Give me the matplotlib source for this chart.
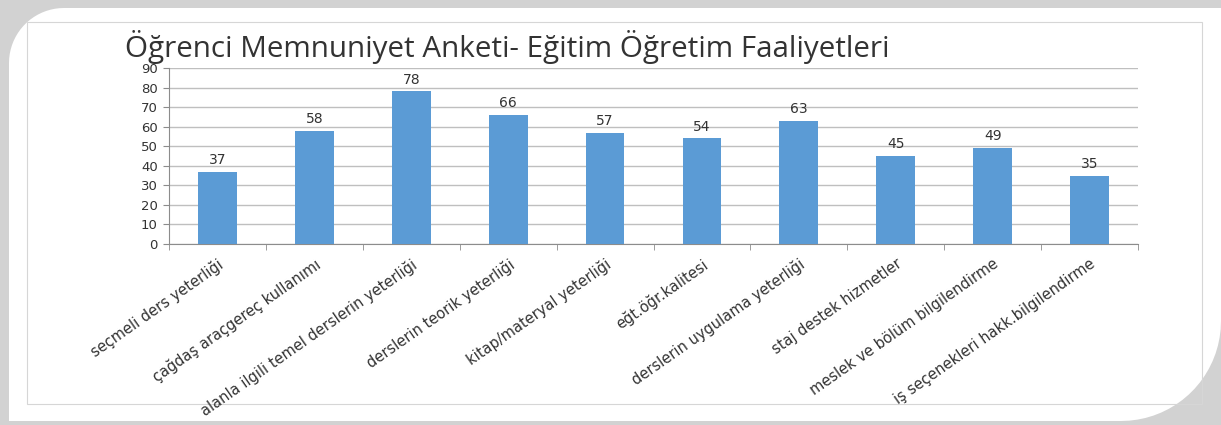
import matplotlib
matplotlib.use("Agg")
import matplotlib.pyplot as plt
from matplotlib.path import Path
from matplotlib.patches import PathPatch, Rectangle
import numpy as np

categories = [
    "seçmeli ders yeterliği",
    "çağdaş araçgereç kullanımı",
    "alanla ilgili temel derslerin yeterliği",
    "derslerin teorik yeterliği",
    "kitap/materyal yeterliği",
    "eğt.öğr.kalitesi",
    "derslerin uygulama yeterliği",
    "staj destek hizmetler",
    "meslek ve bölüm bilgilendirme",
    "iş seçenekleri hakk.bilgilendirme",
]
values = [37, 58, 78, 66, 57, 54, 63, 45, 49, 35]
yticks = [0, 10, 20, 30, 40, 50, 60, 70, 80, 90]
title = "Öğrenci Memnuniyet Anketi- Eğitim Öğretim Faaliyetleri"

W, H = 1221, 425
plt.rcParams['font.family'] = ['DejaVu Sans']
fig = plt.figure(figsize=(W / 100, H / 100), dpi=100)
fig.patch.set_facecolor('#d2d2d2')

def px(x, y):
    return (x / W, 1 - y / H)

# white panel with rounded top-left and bottom-right corners
verts, codes = [], []
def add(pt, code):
    verts.append(px(*pt)); codes.append(code)
r1 = 55
add((9, 8 + r1), Path.MOVETO)
for a in np.linspace(np.pi, 1.5 * np.pi, 20)[1:]:
    add((9 + r1 + r1 * np.cos(a), 8 + r1 + r1 * np.sin(a)), Path.LINETO)
add((1221, 8), Path.LINETO)
r2 = 100
add((1221, 421 - r2), Path.LINETO)
for a in np.linspace(0, 0.5 * np.pi, 20)[1:]:
    add((1221 - r2 + r2 * np.cos(a), 421 - r2 + r2 * np.sin(a)), Path.LINETO)
add((9, 421), Path.LINETO)
add((9, 8 + r1), Path.CLOSEPOLY)
fig.patches.append(PathPatch(Path(verts, codes), facecolor='white', edgecolor='none',
                             transform=fig.transFigure, zorder=-2))
# inner thin border
x0, y0 = px(27, 404)
x1, y1 = px(1202, 22)
fig.patches.append(Rectangle((x0, y0), x1 - x0, y1 - y0, facecolor='none',
                             edgecolor='#d6d6d6', lw=0.8, transform=fig.transFigure, zorder=-1))

left, right, top, bottom = 169, 1138, 68, 244
ax = fig.add_axes([left / W, 1 - bottom / H, (right - left) / W, (bottom - top) / H])
ax.set_zorder(5)
ax.set_facecolor('none')
x = np.arange(len(categories))
bars = ax.bar(x, values, width=0.4, color='#5b9bd5', zorder=3)
for xi, v in zip(x, values):
    ax.text(xi, v + 2.5, str(v), ha='center', va='bottom', fontsize=10, color='#333333')

ax.set_xlim(-0.5, len(categories) - 0.5)
ax.set_ylim(0, 90)
ax.set_yticks(yticks)
ax.set_yticklabels([str(t) for t in yticks], fontsize=9.5, color='#333333')
ax.yaxis.grid(True, color='#bfbfbf', lw=1.0, zorder=0)
ax.set_axisbelow(True)
for s in ['top', 'right']:
    ax.spines[s].set_visible(False)
ax.spines['left'].set_color('#8c8c8c')
ax.spines['bottom'].set_color('#8c8c8c')
ax.tick_params(axis='y', length=4, color='#8c8c8c', pad=4)
ax.set_xticks(x)
ax.set_xticklabels(categories, rotation=35, ha='right', rotation_mode='anchor',
                   fontsize=10.5, color='#333333')
ax.tick_params(axis='x', which='major', length=0, pad=9)
ax.set_xticks(np.arange(-0.5, len(categories)), minor=True)
ax.tick_params(axis='x', which='minor', length=4, color='#8c8c8c')

fig.text(125 / W, 1 - 47 / H, title, fontsize=21.3, color='#333333', ha='left', va='center',
         family=['Open Sans', 'DejaVu Sans'])

fig.savefig('out.png', dpi=100, facecolor=fig.get_facecolor())
